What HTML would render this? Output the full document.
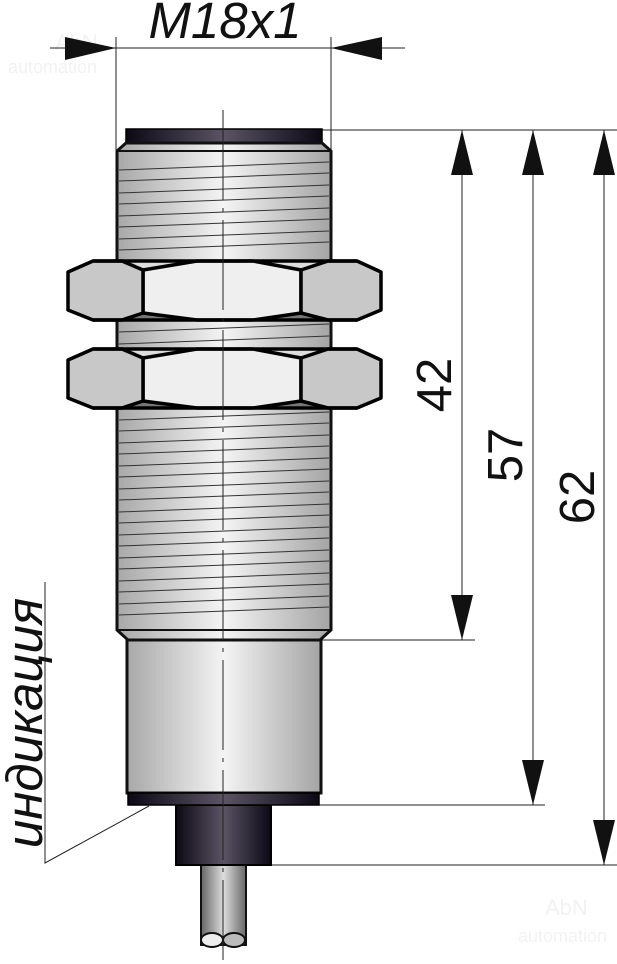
<!DOCTYPE html>
<html><head><meta charset="utf-8"><style>
html,body{margin:0;padding:0;background:#fff;width:617px;height:964px;overflow:hidden}
svg{display:block}
</style></head><body>
<svg width="617" height="964" viewBox="0 0 617 964" xmlns="http://www.w3.org/2000/svg">
<defs>
<linearGradient id="met" x1="0" x2="1" y1="0" y2="0">
<stop offset="0" stop-color="#a8a8a8"/><stop offset="0.5" stop-color="#f4f4f4"/><stop offset="1" stop-color="#a4a4a4"/></linearGradient>
<linearGradient id="dark" x1="0" x2="1" y1="0" y2="0">
<stop offset="0" stop-color="#0c0814"/><stop offset="0.5" stop-color="#5a5464"/><stop offset="1" stop-color="#0c0814"/></linearGradient>
<linearGradient id="cab" x1="0" x2="1" y1="0" y2="0">
<stop offset="0" stop-color="#666"/><stop offset="0.5" stop-color="#ddd"/><stop offset="1" stop-color="#666"/></linearGradient>
</defs>
<g font-family="Liberation Sans, sans-serif" font-style="italic" fill="#111">
<text x="225" y="38" font-size="51" text-anchor="middle">M18x1</text>
<text transform="translate(451,385) rotate(-90)" font-size="49" text-anchor="middle" font-style="normal">42</text>
<text transform="translate(522,455) rotate(-90)" font-size="49" text-anchor="middle" font-style="normal">57</text>
<text transform="translate(594,497) rotate(-90)" font-size="49" text-anchor="middle" font-style="normal">62</text>
<text transform="translate(42,723) rotate(-90)" font-size="51" text-anchor="middle">индикация</text>
</g>
<text x="55" y="50" font-family="Liberation Sans" font-size="22" fill="#f2f2f2">AbN</text>
<text x="8" y="73" font-family="Liberation Sans" font-size="18" fill="#f2f2f2">automation</text>
<text x="545" y="915" font-family="Liberation Sans" font-size="22" fill="#f2f2f2">AbN</text>
<text x="518" y="942" font-family="Liberation Sans" font-size="18" fill="#f2f2f2">automation</text>
<g stroke="#222" stroke-width="1" fill="none">
<line x1="50" y1="48" x2="405" y2="48"/>
<line x1="116" y1="37" x2="116" y2="150"/>
<line x1="331" y1="37" x2="331" y2="150"/>
<line x1="322" y1="130" x2="617" y2="130"/>
<line x1="320" y1="640" x2="475" y2="640"/>
<line x1="319" y1="805" x2="545" y2="805"/>
<line x1="271" y1="865" x2="617" y2="865"/>
<line x1="462" y1="130" x2="462" y2="640"/>
<line x1="533" y1="130" x2="533" y2="805"/>
<line x1="604" y1="130" x2="604" y2="865"/>
<polyline points="45,582 45,863 149,806"/>
</g>
<g fill="#111">
<polygon points="116,48 65,37 65,60"/>
<polygon points="331,48 382,37 382,60"/>
<polygon points="462,130 451,175 473,175"/><polygon points="462,640 451,595 473,595"/>
<polygon points="533,130 522,175 544,175"/><polygon points="533,805 522,760 544,760"/>
<polygon points="604,130 593,175 615,175"/><polygon points="604,865 593,820 615,820"/>
</g>
<rect x="201" y="865" width="45" height="80" fill="url(#cab)" stroke="#111" stroke-width="2"/>
<ellipse cx="212" cy="940" rx="11" ry="7" fill="#eee" stroke="#111" stroke-width="2"/>
<ellipse cx="234" cy="940" rx="11" ry="7" fill="#bbb" stroke="#111" stroke-width="2"/>
<rect x="176" y="805" width="95" height="60" fill="url(#dark)" stroke="#000" stroke-width="2"/>
<rect x="127" y="640" width="194" height="153" fill="url(#met)" stroke="#111" stroke-width="3"/>
<rect x="128" y="793" width="191" height="12" fill="url(#dark)" stroke="#000" stroke-width="1.5"/>
<rect x="126" y="129" width="196" height="14" fill="url(#dark)" stroke="#000" stroke-width="1.5"/>
<polygon points="126,143 322,143 331,151 331,630 320,640 128,640 117,630 117,151" fill="url(#met)" stroke="#111" stroke-width="3"/>
<line x1="117" y1="151" x2="331" y2="151" stroke="#111" stroke-width="2"/>
<line x1="117" y1="630" x2="331" y2="630" stroke="#111" stroke-width="2"/>
<g stroke="#333" stroke-width="1">
<line x1="119" y1="170" x2="329" y2="162"/><line x1="119" y1="181" x2="329" y2="173"/>
<line x1="119" y1="193" x2="329" y2="185"/><line x1="119" y1="204" x2="329" y2="196"/>
<line x1="119" y1="216" x2="329" y2="208"/><line x1="119" y1="227" x2="329" y2="219"/>
<line x1="119" y1="239" x2="329" y2="231"/><line x1="119" y1="250" x2="329" y2="242"/>
<line x1="119" y1="332" x2="329" y2="324"/><line x1="119" y1="344" x2="329" y2="336"/>
<line x1="119" y1="420" x2="329" y2="412"/><line x1="119" y1="431" x2="329" y2="423"/>
<line x1="119" y1="443" x2="329" y2="435"/><line x1="119" y1="454" x2="329" y2="446"/>
<line x1="119" y1="466" x2="329" y2="458"/><line x1="119" y1="477" x2="329" y2="469"/>
<line x1="119" y1="489" x2="329" y2="481"/><line x1="119" y1="500" x2="329" y2="492"/>
<line x1="119" y1="512" x2="329" y2="504"/><line x1="119" y1="523" x2="329" y2="515"/>
<line x1="119" y1="535" x2="329" y2="527"/><line x1="119" y1="546" x2="329" y2="538"/>
<line x1="119" y1="558" x2="329" y2="550"/><line x1="119" y1="569" x2="329" y2="561"/>
<line x1="119" y1="581" x2="329" y2="573"/><line x1="119" y1="592" x2="329" y2="584"/>
<line x1="119" y1="604" x2="329" y2="596"/><line x1="119" y1="615" x2="329" y2="607"/>
</g>
<g id="nut" stroke="#000" stroke-width="3.5" stroke-linejoin="round">
<rect x="93" y="261" width="264" height="59" fill="#888" stroke="none"/>
<polygon points="122,261 328,261 301,270 253,261 197,261 143,270" fill="#ddd" stroke-width="2"/>
<polygon points="143,313 197,320 253,320 301,313 328,320 122,320" fill="#777" stroke-width="2"/>
<polygon points="143,270 197,261 253,261 301,270 301,313 253,320 197,320 143,313" fill="#efefef"/>
<polygon points="68,272 93,261 122,261 143,270 143,313 122,320 93,320 68,310" fill="#c8c8c8"/>
<polygon points="301,270 328,261 357,261 381,272 381,310 357,320 328,320 301,313" fill="#c8c8c8"/>
<line x1="93" y1="261" x2="357" y2="261"/><line x1="93" y1="320" x2="357" y2="320"/>
</g>
<use href="#nut" y="88"/>
<line x1="223" y1="110" x2="223" y2="960" stroke="#222" stroke-width="1" stroke-dasharray="90,8,4,8"/>
</svg>
</body></html>
